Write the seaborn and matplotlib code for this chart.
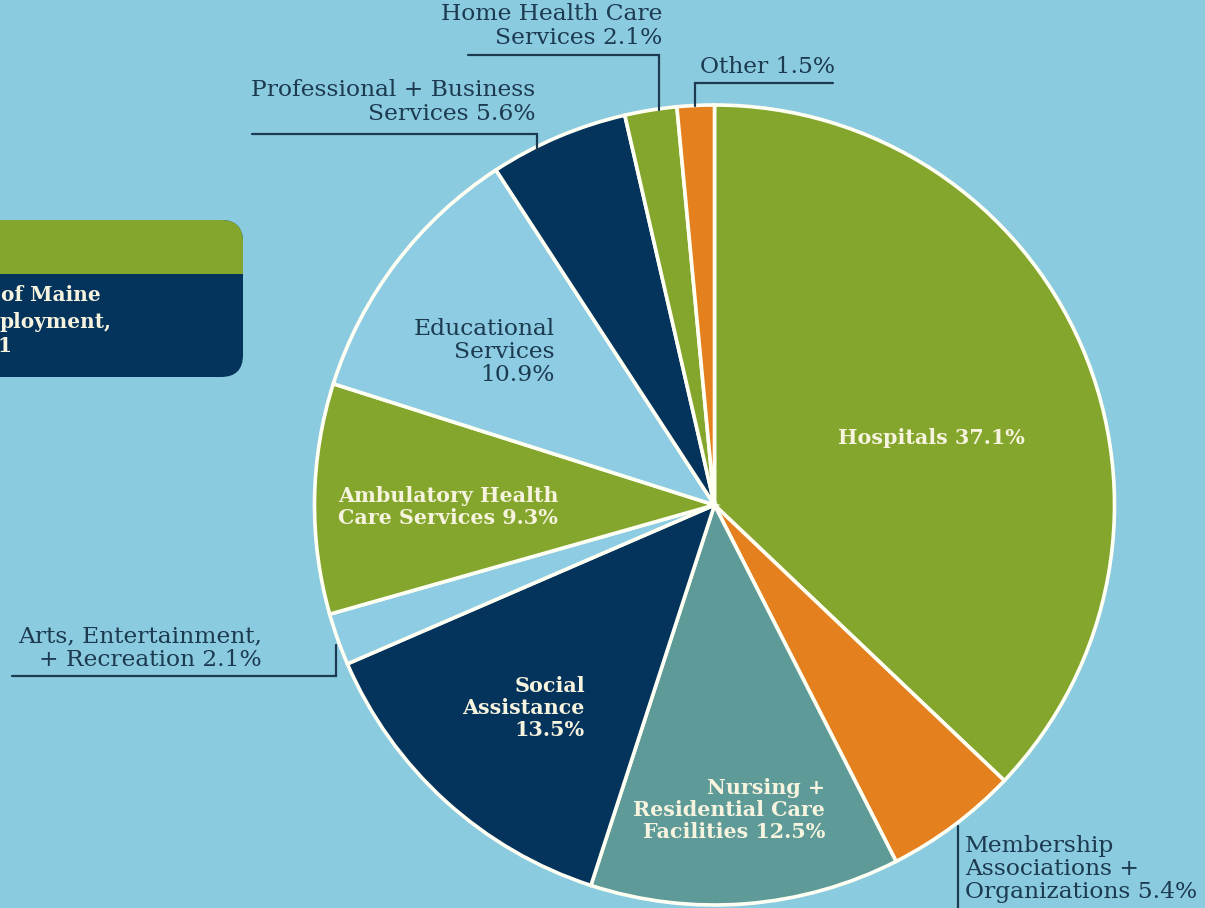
import matplotlib
matplotlib.use("Agg")
import matplotlib.pyplot as plt
import seaborn as sns
from matplotlib.patches import FancyBboxPatch, Rectangle

# data, clockwise from 12 o'clock
sectors = ["Hospitals", "Membership Associations + Organizations",
           "Nursing + Residential Care Facilities", "Social Assistance",
           "Arts, Entertainment, + Recreation", "Ambulatory Health Care Services",
           "Educational Services", "Professional + Business Services",
           "Home Health Care Services", "Other"]
shares = [37.1, 5.4, 12.5, 13.5, 2.1, 9.3, 10.9, 5.6, 2.1, 1.5]

BG = "#8BCBE0"
GREEN = "#85A62D"
NAVY = "#04335C"
ORANGE = "#E5801E"
TEAL = "#5E9B98"
LIGHT = "#8DCCE2"
DARK = "#1C3A50"
CREAM = "#F6F3DE"

sns.set_theme(style="white")
plt.rcParams["font.family"] = ["DejaVu Serif", "DejaVu Sans"]

palette = sns.color_palette([GREEN, ORANGE, TEAL, NAVY, LIGHT,
                             GREEN, LIGHT, NAVY, GREEN, ORANGE])

fig = plt.figure(figsize=(12.05, 9.08), dpi=100)
fig.patch.set_facecolor(BG)
ax = fig.add_axes([0, 0, 1, 1])
ax.set_facecolor(BG)

# pie drawn in pixel-like coords (y axis flipped), so clockwise needs counterclock=True
ax.pie(shares, colors=palette, center=(714.5, 505), radius=400,
       startangle=-90, counterclock=True, frame=True,
       wedgeprops=dict(edgecolor="#FFFFF4", linewidth=2.6))
ax.set_xlim(0, 1205)
ax.set_ylim(908, 0)
ax.set_aspect("equal")
ax.set_axis_off()

# cut-off info box on the left
ax.add_patch(FancyBboxPatch((-60, 220), 303, 157, boxstyle="round,pad=0,rounding_size=22",
                            facecolor=NAVY, edgecolor="none"))
ax.add_patch(FancyBboxPatch((-60, 220), 303, 80, boxstyle="round,pad=0,rounding_size=22",
                            facecolor=GREEN, edgecolor="none"))
ax.add_patch(Rectangle((-60, 274), 303, 50, facecolor=NAVY, edgecolor="none"))
box_font = dict(color=CREAM, fontsize=14.5, fontweight="bold", va="center", ha="left")
ax.text(1, 295, "of Maine", **box_font)
ax.text(-1, 322, "ployment,", **box_font)
ax.text(-2, 346, "1", **box_font)

# labels
outside = dict(color=DARK, fontsize=16.8, va="center", linespacing=1.06)
inside = dict(color=CREAM, fontsize=14.9, fontweight="bold", va="center", linespacing=1.15)

ax.text(662, 26, "Home Health Care\nServices 2.1%", ha="right", **outside)
ax.text(700, 67, "Other 1.5%", ha="left", **outside)
ax.text(535, 102, "Professional + Business\nServices 5.6%", ha="right", **outside)
ax.text(555, 352, "Educational\nServices\n10.9%", ha="right", **outside)
ax.text(262, 648, "Arts, Entertainment,\n+ Recreation 2.1%", ha="right", **outside)
ax.text(965, 869, "Membership\nAssociations +\nOrganizations 5.4%", ha="left", **outside)

ax.text(931, 438, "Hospitals 37.1%", ha="center", **inside)
ax.text(558, 507, "Ambulatory Health\nCare Services 9.3%", ha="right", **inside)
ax.text(585, 708, "Social\nAssistance\n13.5%", ha="right", **inside)
ax.text(825, 810, "Nursing +\nResidential Care\nFacilities 12.5%", ha="right", **inside)

# leader lines
leaders = [
    ([468, 659, 659], [55, 55, 110]),
    ([833, 695, 695], [83, 83, 106]),
    ([252, 537, 537], [134, 134, 150]),
    ([12, 336, 336], [676, 676, 645]),
    ([958, 958], [826, 910]),
]
for xs, ys in leaders:
    ax.plot(xs, ys, color=DARK, lw=1.6, solid_joinstyle="miter")

fig.savefig("out.png", dpi=100, facecolor=BG)
